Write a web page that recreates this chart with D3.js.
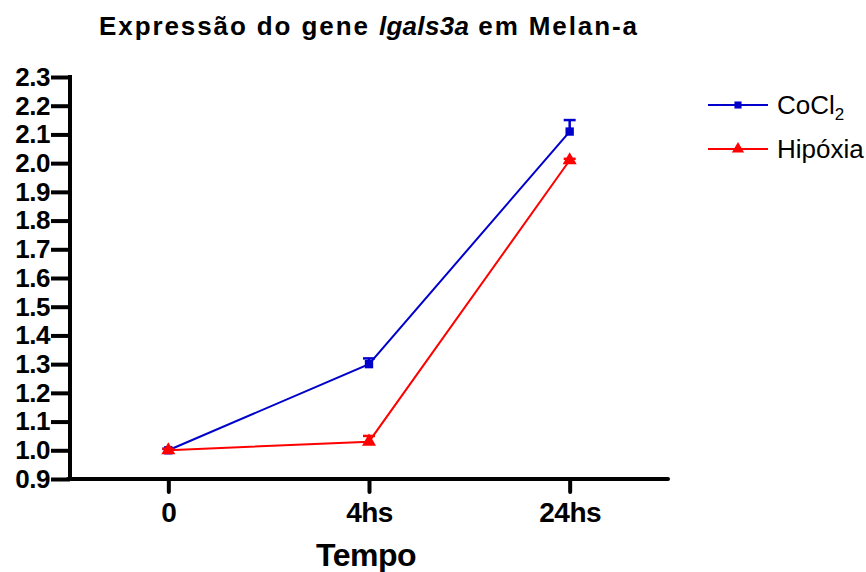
<!DOCTYPE html>
<html>
<head>
<meta charset="utf-8">
<script src="https://cdn.jsdelivr.net/npm/d3@7"></script>
<style>
  body { margin: 0; background: #fff; }
  svg { display: block; font-family: "Liberation Sans", Arial, sans-serif; }
</style>
</head>
<body>
<svg width="866" height="572"></svg>
<script>
// data
const categories = ["0", "4hs", "24hs"];
const cocl2Values = [1.00, 1.30, 2.11];
const cocl2Errors = [0.005, 0.02, 0.04];
const hipoxiaValues = [1.00, 1.03, 2.01];
const hipoxiaErrors = [0.005, 0.02, 0.005];
const yTicks = [0.9, 1.0, 1.1, 1.2, 1.3, 1.4, 1.5, 1.6, 1.7, 1.8, 1.9, 2.0, 2.1, 2.2, 2.3];

const series = [
  { name: "CoCl", sub: "2", values: cocl2Values, errors: cocl2Errors, color: "#0000cc", shape: d3.symbolSquare, size: 70 },
  { name: "Hipóxia", sub: "", values: hipoxiaValues, errors: hipoxiaErrors, color: "#ff0000", shape: d3.symbolTriangle, size: 85 }
];

const svg = d3.select("svg");
const mLeft = 70, mRight = 668, mTop = 77, mBottom = 479;

const x = d3.scalePoint().domain(categories).range([mLeft, mRight]).padding(0.49);
const y = d3.scaleLinear().domain([0.9, 2.3]).range([mBottom, mTop]);

// title
const title = svg.append("text")
    .attr("x", 369).attr("y", 35)
    .attr("text-anchor", "middle")
    .attr("font-size", 26).attr("font-weight", "bold")
    .attr("letter-spacing", 1.9);
title.append("tspan").text("Expressão do gene ");
title.append("tspan").attr("font-style", "italic").attr("letter-spacing", 0.3).text("lgals3a");
title.append("tspan").text(" em Melan-a");

// y axis
const yAxis = svg.append("g")
    .attr("transform", `translate(${mLeft},0)`)
    .call(d3.axisLeft(y).tickValues(yTicks).tickFormat(d3.format(".1f")).tickSize(19).tickSizeOuter(0).tickPadding(1));
yAxis.select(".domain").attr("stroke-width", 4).attr("d", `M0,${mTop - 2}V${mBottom + 2}`);
yAxis.selectAll(".tick line").attr("stroke-width", 4);
yAxis.selectAll(".tick text")
    .attr("font-size", 26).attr("font-weight", "bold")
    .attr("font-family", "Liberation Sans, Arial, sans-serif")
    .attr("letter-spacing", -0.5)
    .attr("fill", "#000");

// x axis
const xAxis = svg.append("g")
    .attr("transform", `translate(0,${mBottom})`)
    .call(d3.axisBottom(x).tickSize(13).tickSizeOuter(0).tickPadding(10));
xAxis.select(".domain").attr("stroke-width", 4).attr("stroke-linecap", "round")
    .attr("d", `M${mLeft - 2},0H${mRight}`);
xAxis.selectAll(".tick line").attr("stroke-width", 4).attr("stroke-linecap", "round");
xAxis.selectAll(".tick text")
    .attr("font-size", 28).attr("font-weight", "bold")
    .attr("font-family", "Liberation Sans, Arial, sans-serif")
    .attr("letter-spacing", -0.5)
    .attr("fill", "#000");

svg.append("text")
    .attr("x", 366).attr("y", 566)
    .attr("text-anchor", "middle")
    .attr("font-size", 32).attr("font-weight", "bold")
    .attr("letter-spacing", -0.5)
    .text("Tempo");

// lines, error bars, markers
const line = d3.line().x((d, i) => x(categories[i])).y(d => y(d));

series.forEach(s => {
  const g = svg.append("g");
  g.append("path")
      .attr("d", line(s.values))
      .attr("fill", "none")
      .attr("stroke", s.color)
      .attr("stroke-width", 2);

  s.values.forEach((v, i) => {
    const cx = x(categories[i]);
    const errTop = y(v + s.errors[i]);
    g.append("line")
        .attr("x1", cx).attr("x2", cx)
        .attr("y1", y(v)).attr("y2", errTop)
        .attr("stroke", s.color).attr("stroke-width", 2.5);
    g.append("line")
        .attr("x1", cx - 6).attr("x2", cx + 6)
        .attr("y1", errTop).attr("y2", errTop)
        .attr("stroke", s.color).attr("stroke-width", 2.5);
    g.append("path")
        .attr("transform", `translate(${cx},${y(v)})`)
        .attr("d", d3.symbol().type(s.shape).size(s.size)())
        .attr("fill", s.color);
  });
});

// legend
const legend = svg.append("g");
series.forEach((s, i) => {
  const ly = 105 + i * 44;
  legend.append("line")
      .attr("x1", 708).attr("x2", 768)
      .attr("y1", ly).attr("y2", ly)
      .attr("stroke", s.color).attr("stroke-width", 2);
  legend.append("path")
      .attr("transform", `translate(738,${ly})`)
      .attr("d", d3.symbol().type(s.shape).size(s.size - 20)())
      .attr("fill", s.color);
  const t = legend.append("text")
      .attr("x", 777).attr("y", ly + 9)
      .attr("font-size", 26)
      .text(s.name);
  if (s.sub) {
    t.append("tspan").attr("dy", 6).attr("font-size", 17).text(s.sub);
  }
});
</script>
</body>
</html>
